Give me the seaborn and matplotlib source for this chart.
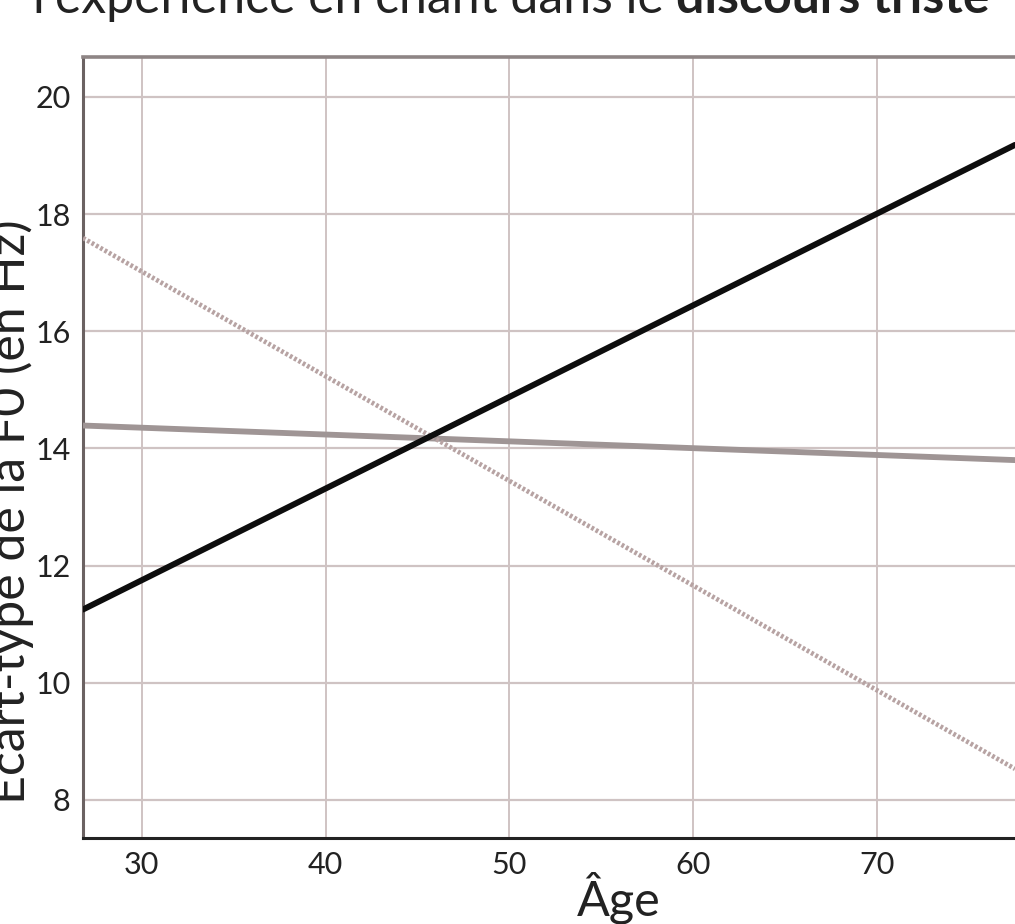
import matplotlib
matplotlib.use("Agg")
import matplotlib.pyplot as plt
import seaborn as sns
import pandas as pd

# Data
ages = [26.8, 77.5]
series_black = [11.25, 19.18]
series_gray = [14.39, 13.80]
series_dotted = [17.59, 8.53]
x_ticks = [30, 40, 50, 60, 70]
y_ticks = [8, 10, 12, 14, 16, 18, 20]

sns.set_theme(style="white")
plt.rcParams['font.family'] = ['Lato', 'DejaVu Sans']

df = pd.DataFrame({
    "Âge": ages * 3,
    "val": series_black + series_gray + series_dotted,
    "grp": ["noir"] * 2 + ["gris"] * 2 + ["pointillé"] * 2,
})

fig = plt.figure(figsize=(10.15, 9.24), dpi=100)
ax = fig.add_axes([83 / 1015, (924 - 838) / 924, 1 - 83 / 1015, (838 - 57) / 924])

# gridlines
for xt in x_ticks:
    ax.axvline(xt, color="#cfc3c3", lw=1.4, zorder=0)
for yt in y_ticks:
    ax.axhline(yt, color="#cfc3c3", lw=1.6, zorder=0)

sns.lineplot(data=df[df.grp == "gris"], x="Âge", y="val", color="#9f9595", lw=4.2, ax=ax, zorder=3)
sns.lineplot(data=df[df.grp == "pointillé"], x="Âge", y="val", color="#b7a3a3", lw=3.4,
             linestyle=(0, (0.6, 0.45)), ax=ax, zorder=3)
sns.lineplot(data=df[df.grp == "noir"], x="Âge", y="val", color="#0d0d0d", lw=4.3, ax=ax, zorder=4)

ax.set_xlim(26.8, 77.5)
ax.set_ylim(7.35, 20.68)
ax.set_xticks(x_ticks)
ax.set_yticks(y_ticks)
ax.tick_params(axis="both", length=0, labelsize=22, colors="#222222")
ax.tick_params(axis="x", pad=9)
ax.tick_params(axis="y", pad=9)

for side in ["left", "bottom", "top", "right"]:
    ax.spines[side].set_visible(True)
ax.spines["left"].set_color("#6b6262")
ax.spines["left"].set_linewidth(2.2)
ax.spines["bottom"].set_color("#222222")
ax.spines["bottom"].set_linewidth(2.2)
ax.spines["top"].set_color("#8e8585")
ax.spines["top"].set_linewidth(2.6)
ax.spines["right"].set_visible(False)

ax.set_xlabel("Âge", fontsize=35, color="#222222")
ax.xaxis.label.set_va("baseline")
ax.xaxis.set_label_coords((619 - 83) / 932, (838 - 915) / 781)
ax.set_ylabel("Écart-type de la F0 (en Hz)", fontsize=36, color="#222222")
ax.yaxis.label.set_va("center")
ax.yaxis.set_label_coords((6 - 83) / 932, (838 - 512) / 781)

# Title (partially cut at the top, as in the reference)
t1 = fig.text(33 / 1015, 1 - 13 / 924, "l'expérience en chant dans le ", fontsize=36,
              color="#222222", va="baseline", ha="left")
fig.canvas.draw()
bb = t1.get_window_extent(renderer=fig.canvas.get_renderer())
fig.text(bb.x1 / fig.bbox.width, 1 - 13 / 924, "discours triste", fontsize=36,
         fontweight="bold", color="#222222", va="baseline", ha="left")

fig.savefig("out.png", dpi=100)
